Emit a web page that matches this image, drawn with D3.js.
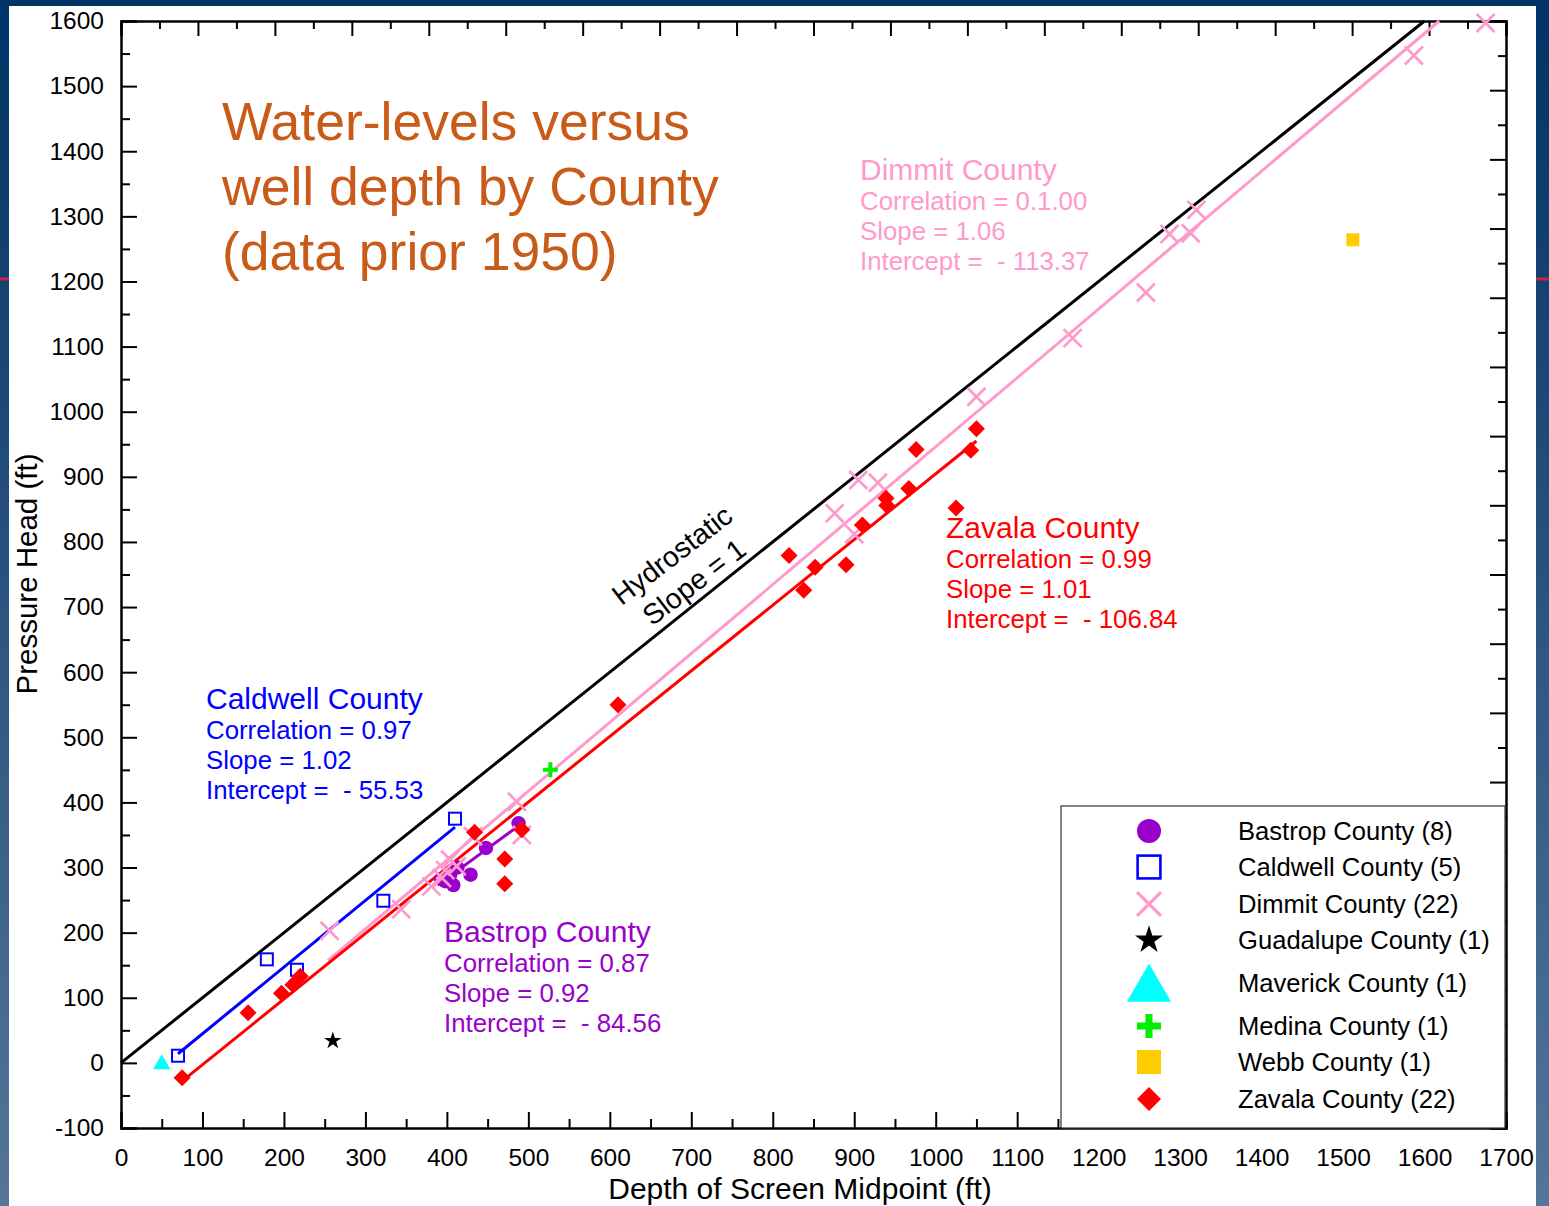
<!DOCTYPE html>
<html><head><meta charset="utf-8">
<script src="https://cdn.jsdelivr.net/npm/d3@7"></script>
<style>
html,body{margin:0;padding:0;overflow:hidden;}
svg{display:block;font-family:Arial,"Liberation Sans",sans-serif;}
text{white-space:pre;}
</style></head>
<body><svg id="c" width="1549" height="1206"></svg>
<script>
// ---- data (x = depth of screen midpoint ft, y = pressure head ft) ----
const bastrop = [[488,368],[448,330],[429,289],[404,289],[408,273],[393,282],[413,300],[398,279]];
const caldwell = [[410,375],[322,249],[179,159],[216,143],[70,11]];
const dimmit = [[1675,1597],[1587,1547],[1320,1310],[1287,1273],[1313,1274],[1258,1183],[1168,1113],[1050,1023],[905,895],[929,891],[876,844],[900,812],[486,401],[492,350],[432,348],[404,312],[412,302],[394,284],[381,271],[344,236],[256,203],[398,296]];
const guadalupe = [[260,34]];
const maverick = [[50,-2]];
const medina = [[527,450]];
const webb = [[1512,1264]];
const zavala = [[1050,974],[976,942],[1043,941],[967,882],[939,867],[940,856],[910,826],[820,779],[852,761],[890,765],[838,726],[1025,852],[610,550],[434,354],[492,358],[471,313],[471,275],[156,77],[75,-23],[197,107],[211,120],[220,133]];

const hydroLine = [[0,0],[1600,1600]];
const dimmitFit = [[254,157],[1618,1600]];
const zavalaFit = [[75,-28],[1050,955]];
const caldwellFit = [[70,14],[410,362]];
const bastropFit = [[392,276],[488,364]];

const xTicks = d3.range(0,1701,100);
const yTicks = d3.range(-100,1601,100);

const legendLabels = ["Bastrop County (8)","Caldwell County (5)","Dimmit County (22)","Guadalupe County (1)","Maverick County (1)","Medina County (1)","Webb County (1)","Zavala County (22)"];

const titleLines = ["Water-levels versus","well depth by County","(data prior 1950)"];
const dimmitText = ["Dimmit County","Correlation = 0.1.00","Slope = 1.06","Intercept =  - 113.37"];
const zavalaText = ["Zavala County","Correlation = 0.99","Slope = 1.01","Intercept =  - 106.84"];
const caldwellText = ["Caldwell County","Correlation = 0.97","Slope = 1.02","Intercept =  - 55.53"];
const bastropText = ["Bastrop County","Correlation = 0.87","Slope = 0.92","Intercept =  - 84.56"];

// ---- colours ----
const C = {bastrop:"#9900cc", caldwell:"#0000ff", dimmit:"#ff99cc", guad:"#000000", mav:"#00ffff", medina:"#00ee00", webb:"#ffcc00", zavala:"#ff0000", title:"#c95a17"};

const svg = d3.select("#c");
const defs = svg.append("defs");
const grad = defs.append("linearGradient").attr("id","bg").attr("x1",0).attr("y1",0).attr("x2",0).attr("y2",1);
grad.append("stop").attr("offset","0%").attr("stop-color","#003366");
grad.append("stop").attr("offset","100%").attr("stop-color","#557599");
svg.append("rect").attr("width",1549).attr("height",1206).attr("fill","url(#bg)");
svg.append("rect").attr("x",0).attr("y",277.5).attr("width",1549).attr("height",3).attr("fill","#cc2244");
svg.append("rect").attr("x",9).attr("y",6).attr("width",1527).attr("height",1206).attr("fill","#ffffff");

const x = d3.scaleLinear([0,1700],[121,1506]);
const y = d3.scaleLinear([-100,1600],[1128,21]);
const xTop = d3.scaleLinear([0,36],[121,1506]);
const yRight = d3.scaleLinear([0,32],[1128,21]);
const fmt = d => String(d);

function styleAxis(g){
  g.select(".domain").attr("stroke","#000").attr("stroke-width",2);
  g.selectAll(".tick line").attr("stroke","#000").attr("stroke-width",2);
  g.selectAll(".tick text").attr("fill","#000").attr("font-size",24.5).attr("font-family","Arial, 'Liberation Sans', sans-serif");
}
// bottom
const gB = svg.append("g").attr("transform","translate(0,1128)")
  .call(d3.axisBottom(x).tickValues(xTicks).tickSize(-16).tickPadding(21).tickFormat(fmt));
styleAxis(gB);
const gBm = svg.append("g").attr("transform","translate(0,1128)")
  .call(d3.axisBottom(x).tickValues(d3.range(50,1700,100)).tickSize(-9).tickFormat(""));
styleAxis(gBm);
// left
const gL = svg.append("g").attr("transform","translate(121,0)")
  .call(d3.axisLeft(y).tickValues(yTicks).tickSize(-16).tickPadding(17).tickFormat(fmt));
styleAxis(gL);
const gLm = svg.append("g").attr("transform","translate(121,0)")
  .call(d3.axisLeft(y).tickValues(d3.range(-50,1600,100)).tickSize(-9).tickFormat(""));
styleAxis(gLm);
// top (secondary, unlabeled)
const gT = svg.append("g").attr("transform","translate(0,21)")
  .call(d3.axisTop(xTop).tickValues(d3.range(0,37,2)).tickSize(-15).tickFormat(""));
styleAxis(gT);
const gTm = svg.append("g").attr("transform","translate(0,21)")
  .call(d3.axisTop(xTop).tickValues(d3.range(1,36,2)).tickSize(-8).tickFormat(""));
styleAxis(gTm);
// right (secondary, unlabeled)
const gR = svg.append("g").attr("transform","translate(1506,0)")
  .call(d3.axisRight(yRight).tickValues(d3.range(0,33,2)).tickSize(-16).tickFormat(""));
styleAxis(gR);
const gRm = svg.append("g").attr("transform","translate(1506,0)")
  .call(d3.axisRight(yRight).tickValues(d3.range(1,32,2)).tickSize(-8).tickFormat(""));
styleAxis(gRm);

// axis titles
svg.append("text").attr("x",800).attr("y",1199).attr("text-anchor","middle").attr("font-size",30).attr("fill","#000").text("Depth of Screen Midpoint (ft)");
svg.append("text").attr("transform","translate(37,574) rotate(-90)").attr("text-anchor","middle").attr("font-size",29.5).attr("fill","#000").text("Pressure Head (ft)");

// lines
const line = d3.line().x(d=>x(d[0])).y(d=>y(d[1]));
const plot = svg.append("g");
plot.append("path").attr("d",line(hydroLine)).attr("stroke","#000").attr("stroke-width",3).attr("fill","none");
plot.append("path").attr("d",line(dimmitFit)).attr("stroke",C.dimmit).attr("stroke-width",3).attr("fill","none");
plot.append("path").attr("d",line(zavalaFit)).attr("stroke",C.zavala).attr("stroke-width",3).attr("fill","none");
plot.append("path").attr("d",line(caldwellFit)).attr("stroke",C.caldwell).attr("stroke-width",3).attr("fill","none");
plot.append("path").attr("d",line(bastropFit)).attr("stroke",C.bastrop).attr("stroke-width",3).attr("fill","none");

// symbol drawing
function sym(g, type, cx, cy, s, sw){
  const t = `translate(${cx},${cy})`;
  switch(type){
    case "circle": g.append("circle").attr("cx",cx).attr("cy",cy).attr("r",7.2*s).attr("fill",C.bastrop); break;
    case "sqOpen": { const a=12*s; g.append("rect").attr("x",cx-a/2).attr("y",cy-a/2).attr("width",a).attr("height",a).attr("fill","none").attr("stroke",C.caldwell).attr("stroke-width",sw||2); break; }
    case "times": { const h=9*s; g.append("path").attr("d",`M${cx-h},${cy-h}L${cx+h},${cy+h}M${cx-h},${cy+h}L${cx+h},${cy-h}`).attr("stroke",C.dimmit).attr("stroke-width",sw||2.7).attr("fill","none"); break; }
    case "star": g.append("path").attr("transform",t).attr("d",d3.symbol(d3.symbolStar, 95*s*s)()).attr("fill",C.guad); break;
    case "tri": g.append("path").attr("transform",t).attr("d",d3.symbol(d3.symbolTriangle, 130*s*s)()).attr("fill",C.mav); break;
    case "plus": { const h=7.5*s; g.append("path").attr("d",`M${cx-h},${cy}L${cx+h},${cy}M${cx},${cy-h}L${cx},${cy+h}`).attr("stroke",C.medina).attr("stroke-width",sw||4).attr("fill","none"); break; }
    case "sqFill": { const a=13*s; g.append("rect").attr("x",cx-a/2).attr("y",cy-a/2).attr("width",a).attr("height",a).attr("fill",C.webb); break; }
    case "diamond": { const h=8.5*s; g.append("path").attr("d",`M${cx},${cy-h}L${cx+h},${cy}L${cx},${cy+h}L${cx-h},${cy}Z`).attr("fill",C.zavala); break; }
  }
}
const series = [
  {data:bastrop,type:"circle"},
  {data:caldwell,type:"sqOpen"},
  {data:dimmit,type:"times"},
  {data:guadalupe,type:"star"},
  {data:maverick,type:"tri"},
  {data:medina,type:"plus"},
  {data:webb,type:"sqFill"},
  {data:zavala,type:"diamond"}
];
const mk = svg.append("g");
series.forEach(s=> s.data.forEach(d=> sym(mk, s.type, x(d[0]), y(d[1]), 1)));

// title
const tt = svg.append("text").attr("font-size",53.5).attr("fill",C.title);
titleLines.forEach((l,i)=> tt.append("tspan").attr("x",222).attr("y",140+i*65).text(l));

// annotation blocks
function block(lines, color, x0, yTitle){
  const g = svg.append("g").attr("fill",color);
  g.append("text").attr("x",x0).attr("y",yTitle).attr("font-size",30).text(lines[0]);
  for(let i=1;i<lines.length;i++){
    g.append("text").attr("x",x0).attr("y",yTitle+i*30).attr("font-size",25.8).text(lines[i]);
  }
}
block(dimmitText, C.dimmit, 860, 180);
block(zavalaText, C.zavala, 946, 538);
block(caldwellText, C.caldwell, 206, 709);
block(bastropText, C.bastrop, 444, 942);

// hydrostatic label
svg.append("text").attr("transform","translate(672,555) rotate(-37.5)").attr("text-anchor","middle").attr("dy","0.35em").attr("font-size",28.5).attr("fill","#000").text("Hydrostatic");
svg.append("text").attr("transform","translate(694,582) rotate(-37.5)").attr("text-anchor","middle").attr("dy","0.35em").attr("font-size",28.5).attr("fill","#000").text("Slope = 1");

// legend
const lg = svg.append("g");
lg.append("rect").attr("x",1061).attr("y",806).attr("width",444).attr("height",322).attr("fill","#fff").attr("stroke","#333").attr("stroke-width",1.2);
const rowY = [831,867,904,940,983,1026,1062,1099];
const symY = [831,867,904,940,989,1026,1062,1099];
const legScale = [1.67,1.9,1.33,1.6,2.55,1.6,1.85,1.41];
const legSW = [0,2.6,3.2,0,0,7,0,0];
series.forEach((s,i)=>{
  sym(lg, s.type, 1149, symY[i], legScale[i], legSW[i]||undefined);
  lg.append("text").attr("x",1238).attr("y",rowY[i]+9).attr("font-size",25.6).attr("fill","#000").text(legendLabels[i]);
});
</script></body></html>
